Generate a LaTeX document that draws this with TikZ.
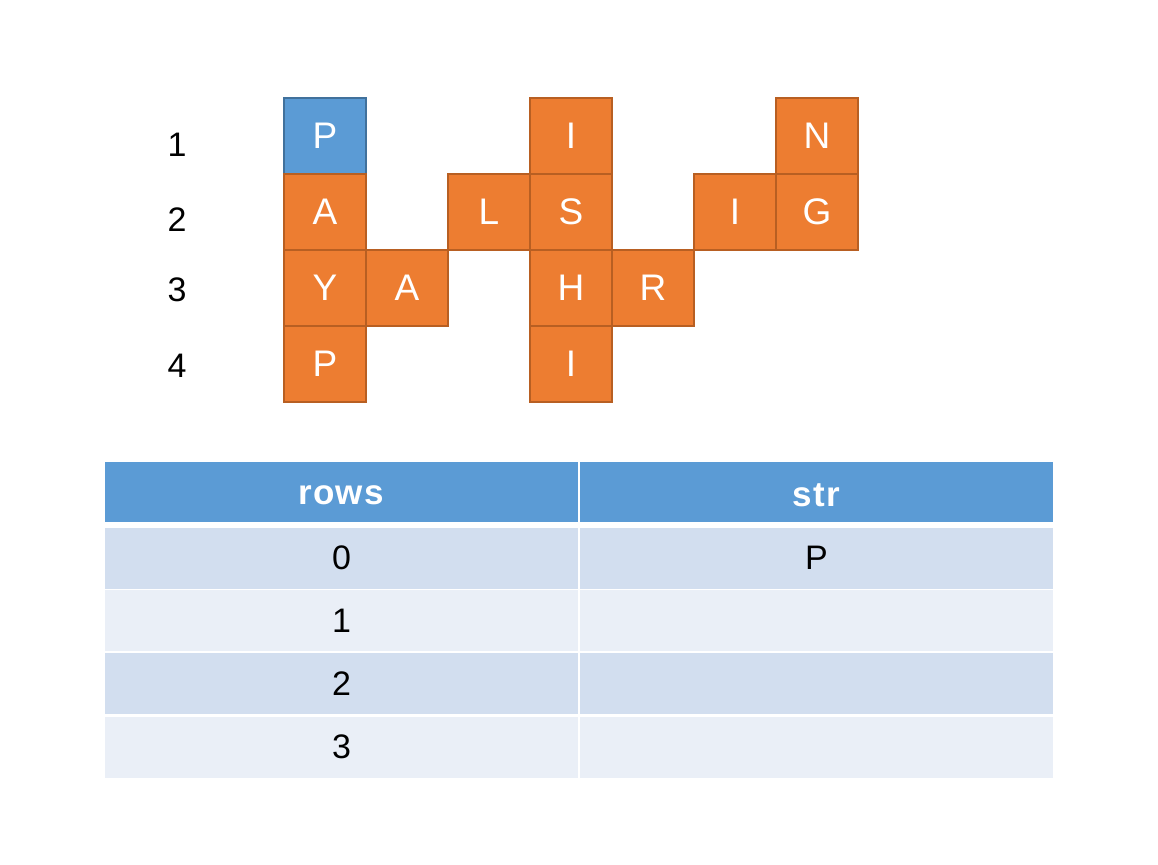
\documentclass[tikz,border=0pt]{standalone}
\usepackage{fontspec}
\setmainfont{Liberation Sans}
\newfontfamily\hdfont[LetterSpace=4]{Liberation Sans}
\definecolor{org}{HTML}{ED7D31}
\definecolor{orgd}{HTML}{B85F22}
\definecolor{blu}{HTML}{5B9BD5}
\definecolor{blud}{HTML}{41719C}
\definecolor{rowa}{HTML}{D2DEEF}
\definecolor{rowb}{HTML}{EAEFF7}
\tikzset{
  cell/.style={draw=orgd, fill=org, line width=1.5pt, minimum width=82pt, minimum height=76pt, inner sep=0pt, text=white, font=\fontsize{37}{37}\selectfont},
  bcell/.style={cell, draw=blud, fill=blu},
  rlabel/.style={font=\fontsize{34}{34}\selectfont, text=black},
  thead/.style={fill=blu, minimum width=473pt, minimum height=60pt, inner sep=0pt, text=white},
  htext/.style={text=white, inner sep=0pt, font=\hdfont\bfseries\fontsize{35}{35}\selectfont},
  trowa/.style={fill=rowa, minimum width=473pt, minimum height=61pt, inner sep=0pt, text=black, font=\fontsize{34}{34}\selectfont},
  trowb/.style={trowa, fill=rowb},
}
\begin{document}
\begin{tikzpicture}[x=1pt,y=-1pt]
\useasboundingbox (0,0) rectangle (1158,864);
% grid
\node[bcell] (c11) at (325,136) {P};
\node[cell] (c14) at (571,136) {I};
\node[cell] (c17) at (817,136) {N};
\node[cell] (c21) at (325,212) {A};
\node[cell] (c23) at (489,212) {L};
\node[cell] (c24) at (571,212) {S};
\node[cell] (c26) at (735,212) {I};
\node[cell] (c27) at (817,212) {G};
\node[cell] (c31) at (325,288) {Y};
\node[cell] (c32) at (407,288) {A};
\node[cell] (c34) at (571,288) {H};
\node[cell] (c35) at (653,288) {R};
\node[cell] (c41) at (325,364) {P};
\node[cell] (c44) at (571,364) {I};
% row labels
\node[rlabel] (r1) at (177,145) {1};
\node[rlabel] (r2) at (177,220) {2};
\node[rlabel] (r3) at (177,290) {3};
\node[rlabel] (r4) at (177,366) {4};
% table
\node[thead] (h1) at (341.5,492) {};
\node[thead] (h2) at (816.5,492) {};
\node[htext] (h1t) at (341,495) {rows};
\node[htext] (h2t) at (816,495) {str};
\node[trowa] (a1) at (341.5,558) {0};
\node[trowa] (a2) at (816.5,558) {P};
\node[trowb] (b1) at (341.5,620.5) {1};
\node[trowb] (b2) at (816.5,620.5) {};
\node[trowa] (d1) at (341.5,683.5) {2};
\node[trowa] (d2) at (816.5,683.5) {};
\node[trowb] (e1) at (341.5,747) {3};
\node[trowb] (e2) at (816.5,747) {};
\end{tikzpicture}
\end{document}
